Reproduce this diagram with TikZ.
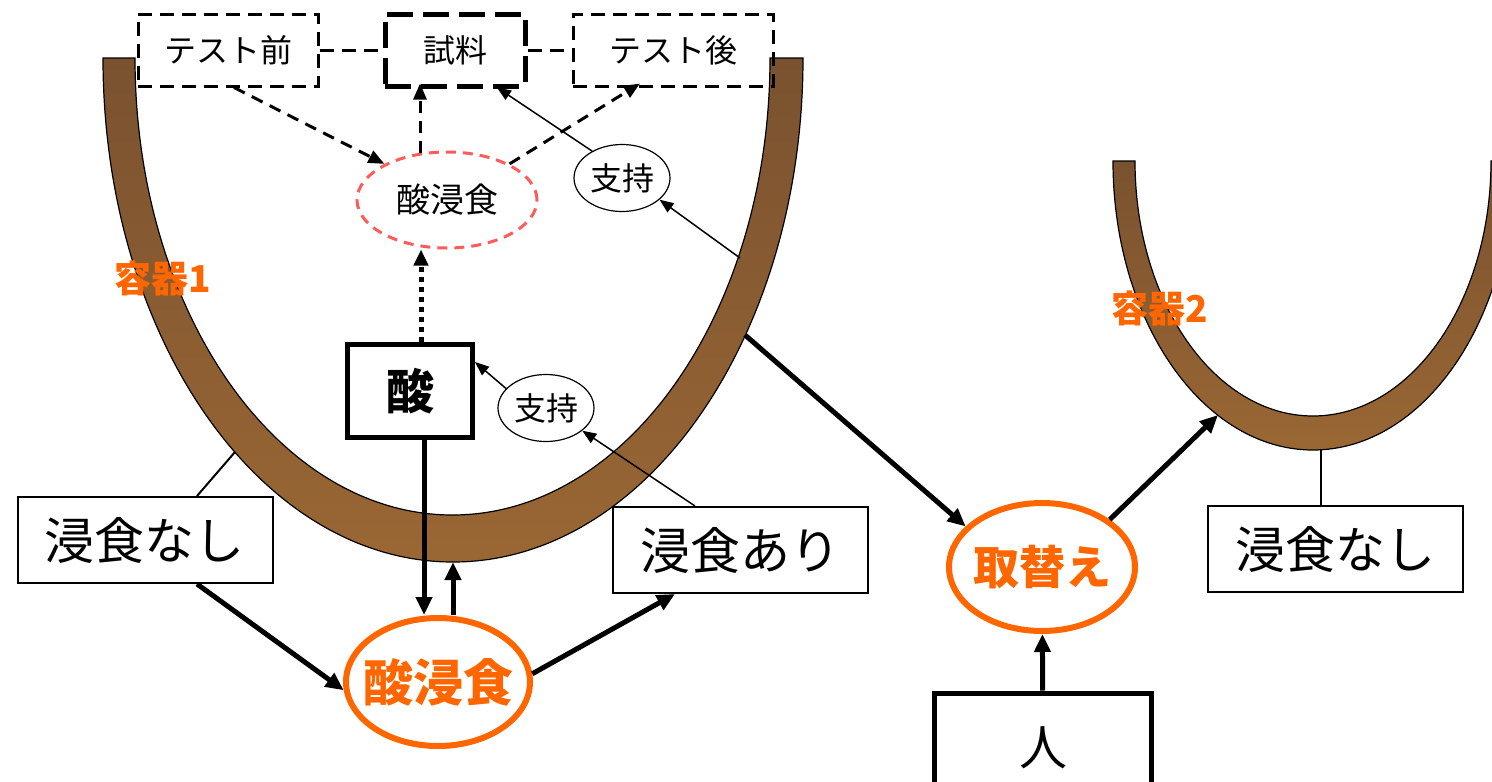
\documentclass[tikz,border=0pt]{standalone}
\usepackage{fontspec}
\setmainfont{Noto Sans CJK JP}
\usetikzlibrary{arrows.meta,positioning,shapes.geometric,calc}

\definecolor{potdark}{HTML}{7A5230}
\definecolor{potlight}{HTML}{9A6734}
\definecolor{accent}{HTML}{FF6600}
\definecolor{trace}{HTML}{FF5B5B}
\newcommand{\fs}[1]{\fontsize{#1}{#1}\selectfont}

\begin{document}
\begin{tikzpicture}[x=1pt, y=-1pt,
  pot/.style={draw=black, line width=1.2pt, top color=potdark, bottom color=potlight},
  item/.style={draw, line width=2pt, fill=white, inner sep=0pt, minimum width=255pt, minimum height=86pt, font=\fs{50}},
  tbox/.style={draw, line width=3pt, dash pattern=on 14pt off 8pt, inner sep=0pt, minimum height=72pt, font=\fs{32}},
  sup/.style={ellipse, draw, line width=1.2pt, minimum width=96pt, minimum height=67pt, inner sep=0pt, font=\fs{32}},
  keyev/.style={ellipse, draw=accent, line width=6pt, text=accent, inner xsep=-15pt, inner ysep=0pt, minimum height=128pt, font=\fs{50}\bfseries},
  tag/.style={text=accent, font=\fs{37}\bfseries},
  flow/.style={line width=5pt, -{Triangle[length=18pt,width=16pt]}},
  link/.style={line width=1.5pt, -{Triangle[length=14pt,width=11pt]}},
  dflow/.style={line width=3pt, dash pattern=on 12pt off 8pt, -{Triangle[length=16pt,width=13pt]}}]
\useasboundingbox (0,0) rectangle (1492,782);

% vessels
\path[pot] (103,58) arc[start angle=180, end angle=0, x radius=350, y radius=504]
  -- (770,58) arc[start angle=0, end angle=180, x radius=317.5, y radius=457] -- cycle;
\begin{scope}
\clip (0,0) rectangle (1492,782);
\path[pot] (1113,161) arc[start angle=180, end angle=0, x radius=200, y radius=289]
  -- (1491,161) arc[start angle=0, end angle=180, x radius=178, y radius=255] -- cycle;
\end{scope}
\coordinate (v1a) at (235,452);
\coordinate (v1b) at (740,258);
\coordinate (v1c) at (745,335);
\coordinate (v1d) at (453,562);
\coordinate (v2a) at (1218,415);
\coordinate (v2b) at (1321,450);

\node[tag] (lbl1) at (163,278) {容器1};
\node[tag] (lbl2) at (1160,308) {容器2};

% test boxes
\node[tbox, minimum width=180pt] (pre) at (228,50) {テスト前};
\node[tbox, minimum width=140pt, line width=5pt, dash pattern=on 26pt off 10pt] (smp) at (455,50) {試料};
\node[tbox, minimum width=200pt] (post) at (673,50) {テスト後};
\draw[line width=3pt, dash pattern=on 14pt off 8pt] (pre) -- (smp);
\draw[line width=3pt, dash pattern=on 14pt off 8pt] (smp) -- (post);

\node[ellipse, draw=trace, line width=3pt, dash pattern=on 10pt off 7pt, minimum width=180pt, minimum height=96pt, inner sep=0pt, font=\fs{34}] (aet) at (447,200) {酸浸食};
\node[sup] (sup1) at (622,178) {支持};
\node[sup] (sup2) at (546,408) {支持};
\node[item, line width=5pt, minimum width=125pt, minimum height=93pt, font=\fs{48}\bfseries] (acid) at (410,391) {酸};

\node[item] (nonL) at (145,540) {浸食なし};
\node[item] (yes) at (740,550) {浸食あり};
\node[item] (nonR) at (1335,549) {浸食なし};
\node[keyev, minimum width=184pt] (ae) at (438,682) {酸浸食};
\node[keyev, minimum width=186pt, font=\fs{46}\bfseries] (rep) at (1042,567) {取替え};
\node[item, line width=5pt, minimum width=217pt, minimum height=110pt, font=\fs{48}] (hum) at (1043,748) {人};

% connectors
\draw[dflow] ($(pre.south)+(6,0)$) -- (aet.150);
\draw[dflow] ($(aet.north)+(-27,2)$) -- ($(smp.south)+(-35,-5)$);
\draw[dflow] (aet.30) -- ($(post.south)+(-33,-4)$);
\draw[link] (sup1.138) -- ($(smp.south)+(42,-1)$);
\draw[link] (v1b) -- (sup1.330);
\draw[line width=5pt, dash pattern=on 5pt off 5pt, -{Triangle[length=16pt,width=14pt]}] ($(acid.north)+(11,0)$) -- ($(aet.south)+(-26,0)$);
\draw[link] (sup2.154) -- ($(acid.north east)+(0,20)$);
\draw[link] ($(yes.north)+(-45,0)$) -- (sup2.328);
\draw[line width=2pt] ($(nonL.north)+(52,0)$) -- (v1a);
\draw[flow] ($(acid.south)+(14,0)$) -- ($(ae.north)+(-14,0)$);
\draw[flow] ($(ae.north)+(15,0)$) -- (v1d);
\draw[flow] ($(nonL.south)+(52,0)$) -- (ae.185);
\draw[flow] (ae.5) -- ($(yes.south)+(-65,0)$);
\draw[flow] (v1c) -- (rep.152);
\draw[flow] (rep.35) -- (v2a);
\draw[flow] (hum) -- (rep);
\draw[line width=2pt] (v2b) -- ($(nonR.north)+(-14,0)$);
\end{tikzpicture}
\end{document}
